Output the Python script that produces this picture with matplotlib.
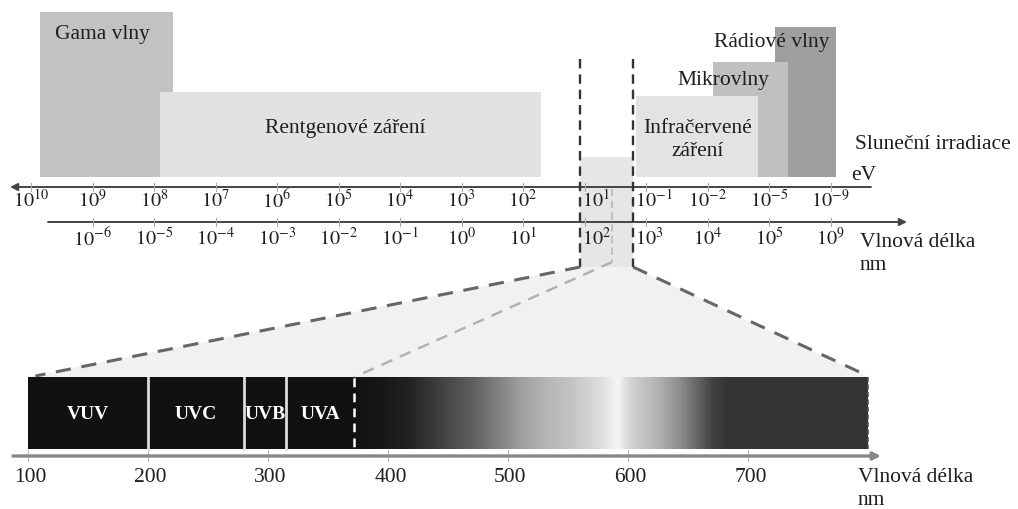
import numpy as np
import matplotlib
matplotlib.use("Agg")
import matplotlib.pyplot as plt
from matplotlib.patches import Rectangle, Polygon
from matplotlib.colors import LinearSegmentedColormap

plt.rcParams['font.family'] = ['Liberation Serif', 'DejaVu Serif']
plt.rcParams['mathtext.fontset'] = 'stix'

# upper scale: one slot per label
ev_exp = [10, 9, 8, 7, 6, 5, 4, 3, 2, 1, -1, -2, -5, -9]   # slots 0..13
wl_exp = [-6, -5, -4, -3, -2, -1, 0, 1, 2, 3, 4, 5, 9]      # slots 1..13

# upper bands (slot units)
band_names = ['Gama vlny', 'Rentgenové záření', 'Rádiové vlny', 'Mikrovlny', 'Infračervené\nzáření']
band_start = [0.15, 2.10, 12.10, 11.09, 9.84]
band_end = [2.31, 8.29, 13.09, 12.31, 11.82]
band_top = [13, 93, 28, 63, 97]
band_color = ['#c2c2c2', '#e2e2e2', '#9f9f9f', '#c0c0c0', '#e3e3e3']

window = (8.93, 9.79)      # optical window on the upper scale
uv_vis_slot = 9.45

# lower spectrum (nm)
uv_names = ['VUV', 'UVC', 'UVB', 'UVA']
uv_edges = [100, 200, 280, 315, 372]
spec_end = 800
nm_ticks = [100, 200, 300, 400, 500, 600, 700]
grad_nm = [372, 393, 416, 443, 471, 491, 510, 532, 554, 577, 592, 600, 610, 627, 643, 660, 671, 685, 800]
grad_gray = [0.07, 0.09, 0.13, 0.25, 0.38, 0.50, 0.62, 0.71, 0.77, 0.87, 0.96, 0.85, 0.78, 0.69, 0.56, 0.38, 0.26, 0.20, 0.20]

W, H = 1018, 510
SLOT_X0, SLOT_W = 31, 61.5       # px of slot 0, px per slot
NM_X0, NM_W = 28, 1.2            # px of 100 nm, px per nm

fig = plt.figure(figsize=(W / 100, H / 100), dpi=100)
ax_bot = fig.add_axes([0, 0, 1, 1])
ax_bot.set_xlim(100 - NM_X0 / NM_W, 100 + (W - NM_X0) / NM_W)
ax_top = fig.add_axes([0, 0, 1, 1])
ax_top.set_xlim(-SLOT_X0 / SLOT_W, (W - SLOT_X0) / SLOT_W)
for ax in (ax_bot, ax_top):
    ax.set_ylim(H, 0)
    ax.axis('off')
ax_top.patch.set_visible(False)


def slot_of(nm):
    d = ax_bot.transData.transform((nm, 0))
    return ax_top.transData.inverted().transform(d)[0]


def px_slot(px):
    return (px - SLOT_X0) / SLOT_W


txt = '#1e1e1e'
fs = 15.5

# fan from the optical window to the lower spectrum
ax_top.add_patch(Polygon([(window[0], 268), (window[1], 268), (slot_of(spec_end), 378),
                          (slot_of(100), 378)], closed=True, fc='#f1f1f1', ec='none', zorder=0))
ax_top.add_patch(Rectangle((window[0], 158), window[1] - window[0], 110, fc='#e6e6e6', ec='none', zorder=0))

# upper bands
for name, s, e, t, c in zip(band_names, band_start, band_end, band_top, band_color):
    ax_top.add_patch(Rectangle((s, t), e - s, 178 - t, fc=c, ec='none', zorder=1))

ax_top.text(px_slot(55), 35, band_names[0], fontsize=fs, color=txt, va='center', ha='left', zorder=3)
ax_top.text(px_slot(345), 128, band_names[1], fontsize=fs, color=txt, va='center', ha='center', zorder=3)
ax_top.text(px_slot(772), 42, band_names[2], fontsize=fs, color=txt, va='center', ha='center', zorder=3)
ax_top.text(px_slot(723), 80, band_names[3], fontsize=fs, color=txt, va='center', ha='center', zorder=3)
ax_top.text(px_slot(698), 140, band_names[4], fontsize=fs, color=txt, va='center', ha='center',
            linespacing=1.3, zorder=3)
ax_top.text(px_slot(855), 145, 'Sluneční irradiace', fontsize=fs, color=txt, va='center', ha='left')
ax_top.text(px_slot(851), 176, 'eV', fontsize=fs, color=txt, va='center', ha='left')
ax_top.text(px_slot(860), 243, 'Vlnová délka', fontsize=fs, color=txt, va='center', ha='left')
ax_top.text(px_slot(860), 266, 'nm', fontsize=fs, color=txt, va='center', ha='left')

# axes of the upper scale
ax_top.annotate('', xy=(px_slot(10), 188), xytext=(px_slot(871), 188),
                arrowprops=dict(arrowstyle='-|>', color='#444', lw=1.4, mutation_scale=11, shrinkA=0, shrinkB=0),
                zorder=4)
ax_top.annotate('', xy=(px_slot(907), 223), xytext=(px_slot(48), 223),
                arrowprops=dict(arrowstyle='-|>', color='#444', lw=1.4, mutation_scale=11, shrinkA=0, shrinkB=0),
                zorder=4)

tfs = 14.5
for i, e in enumerate(ev_exp):
    ax_top.plot([i, i], [184, 192], color='#aaa', lw=0.8, zorder=4)
    if i in (9, 10):
        x, ha = window[i - 9] + 0.03, 'left'
    else:
        x, ha = i, 'center'
    ax_top.text(x, 201, r'$10^{%d}$' % e, fontsize=tfs, color=txt, ha=ha, va='center', zorder=5)
for i, e in enumerate(wl_exp, start=1):
    ax_top.plot([i, i], [219, 227], color='#aaa', lw=0.8, zorder=4)
    if i in (9, 10):
        x, ha = window[i - 9] + 0.03, 'left'
    else:
        x, ha = i, 'center'
    ax_top.text(x, 239, r'$10^{%d}$' % e, fontsize=tfs, color=txt, ha=ha, va='center', zorder=5)

# dashed guides
for x in window:
    ax_top.plot([x, x], [60, 268], color='#333', lw=1.7, dashes=(4, 2.5), zorder=6)
ax_top.plot([uv_vis_slot, uv_vis_slot], [190, 263], color='#bbb', lw=1.3, dashes=(4, 2.5), zorder=6)
ax_top.plot([window[0], slot_of(100) + 0.12], [268, 377], color='#666', lw=2.2, dashes=(5, 3.5), zorder=6)
ax_top.plot([window[1], slot_of(spec_end)], [268, 377], color='#666', lw=2.2, dashes=(5, 3.5), zorder=6)
ax_top.plot([uv_vis_slot, slot_of(uv_edges[-1])], [263, 378], color='#b0b0b0', lw=1.7, dashes=(5, 3.5), zorder=6)

# lower spectrum
ax_bot.add_patch(Rectangle((100, 378), uv_edges[-1] - 100, 72, fc='#111', ec='none', zorder=2))
pos = [(n - grad_nm[0]) / (grad_nm[-1] - grad_nm[0]) for n in grad_nm]
cmap = LinearSegmentedColormap.from_list('vis', [(p, (g, g, g)) for p, g in zip(pos, grad_gray)])
ax_bot.imshow(np.linspace(0, 1, 600)[None, :], cmap=cmap, aspect='auto',
              extent=(uv_edges[-1], spec_end, 450, 378), zorder=2)
ax_bot.plot([spec_end, spec_end], [378, 450], color='#555', lw=1.2, dashes=(3, 1.5), zorder=3)
for e in uv_edges[1:-1]:
    ax_bot.plot([e, e], [378, 450], color='#ddd', lw=2, zorder=3)
ax_bot.plot([uv_edges[-1]] * 2, [379, 449], color='white', lw=1.8, dashes=(3.5, 2.5), zorder=3)
for name, a, b in zip(uv_names, uv_edges[:-1], uv_edges[1:]):
    ax_bot.text((a + b) / 2, 415, name, fontsize=14, fontweight='bold', color='white',
                ha='center', va='center', zorder=4)
ax_bot.text(100 + (283 - NM_X0) / NM_W, 357, 'UV', fontsize=fs, color=txt, ha='center', va='center')
ax_bot.text(100 + (603 - NM_X0) / NM_W, 350, 'Viditelné světlo', fontsize=fs, color=txt, ha='center', va='center')

ax_bot.set_xlim(100 - NM_X0 / NM_W, 100 + (W - NM_X0) / NM_W)
ax_bot.set_ylim(H, 0)

ax_bot.annotate('', xy=(100 + (881 - NM_X0) / NM_W, 457), xytext=(100 + (13 - NM_X0) / NM_W, 457),
                arrowprops=dict(arrowstyle='-|>', color='#888', lw=2.4, mutation_scale=11, shrinkA=0, shrinkB=0))
for t in nm_ticks:
    ax_bot.plot([t, t], [451, 462], color='#bbb', lw=0.8)
    ax_bot.text(t + 2, 478, str(t), fontsize=15.5, color=txt, ha='center', va='center')
ax_bot.text(100 + (858 - NM_X0) / NM_W, 478, 'Vlnová délka', fontsize=fs, color=txt, ha='left', va='center')
ax_bot.text(100 + (858 - NM_X0) / NM_W, 501, 'nm', fontsize=fs, color=txt, ha='left', va='center')

fig.savefig('out.png', dpi=100)
